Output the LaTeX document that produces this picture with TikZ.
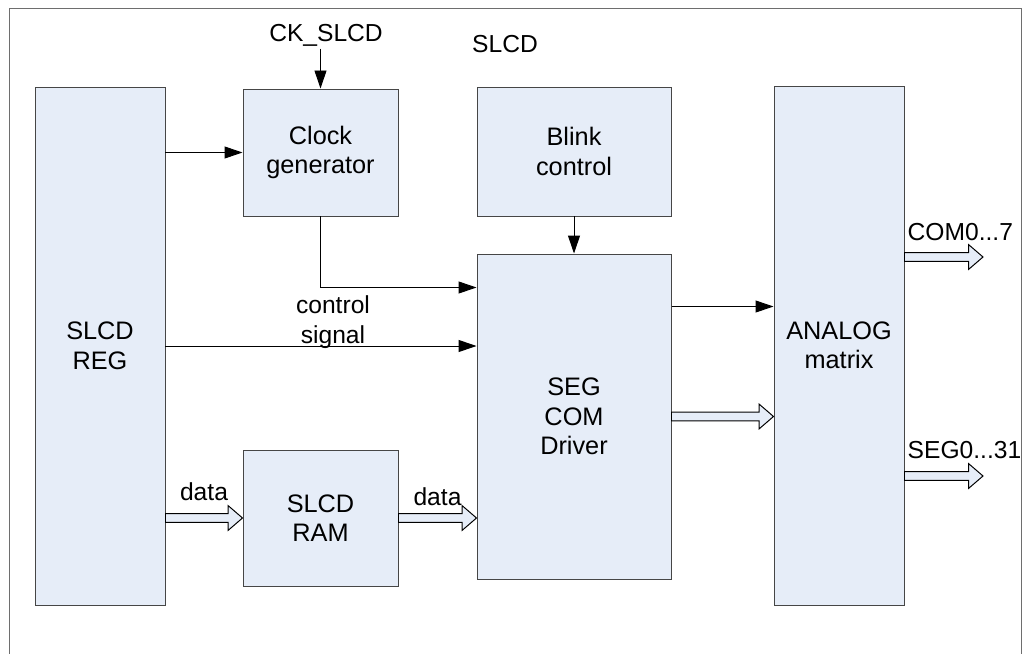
\documentclass[tikz,border=0pt]{standalone}
\usepackage{fontspec}
\setmainfont{Liberation Sans}
\usepackage{xcolor}
\usepackage{tikz}
\usetikzlibrary{positioning}
\usetikzlibrary{arrows.meta}
\usetikzlibrary{calc}

\definecolor{blockfill}{RGB}{230,237,248}
\definecolor{blockline}{RGB}{70,70,70}
\definecolor{framegray}{RGB}{110,110,110}

\tikzset{
  block/.style={draw=blockline, fill=blockfill, line width=0.7pt, align=center, inner sep=0pt, font=\fontsize{18}{21}\selectfont},
  lbl/.style={inner sep=1pt, font=\fontsize{17.5}{21}\selectfont},
  sig/.style={line width=0.7pt, -{Triangle[length=0.45cm,width=0.3cm]}},
  bus/.style={draw=black, fill=blockfill, line width=0.7pt, line join=miter},
}

% hollow bus arrow from #1 to #2 (horizontal)
\newcommand{\busarrow}[2]{%
  \filldraw[bus] ($(#1)+(0,0.11)$) -- ($(#2)+(-0.36,0.11)$) -- ($(#2)+(-0.36,0.31)$) -- (#2)
    -- ($(#2)+(-0.36,-0.31)$) -- ($(#2)+(-0.36,-0.11)$) -- ($(#1)+(0,-0.11)$) -- cycle;}

\begin{document}
\begin{tikzpicture}
        \clip (0,0) rectangle (25.6,16.325);
        \draw[framegray, line width=0.7pt] (0.225,-1) rectangle (25.525,16.125);

        % blocks
        \node[block, minimum width=3.25cm, minimum height=12.95cm] (reg) at (2.5,7.675) {SLCD\\REG};
        \node[block, minimum width=3.875cm, minimum height=3.175cm] (clk) at (8.0125,12.5125) {Clock\\generator};
        \node[block, minimum width=4.85cm, minimum height=3.225cm] (blink) at (14.35,12.5375) {Blink\\control};
        \node[block, minimum width=4.85cm, minimum height=8.125cm] (drv) at (14.35,5.9125) {SEG\\COM\\Driver};
        \node[block, minimum width=3.875cm, minimum height=3.4cm] (ram) at (8.0125,3.375) {SLCD\\RAM};
        \node[block, minimum width=3.25cm, minimum height=12.975cm] (ana) at (20.975,7.6875) {ANALOG\\matrix};

        % labels
        \node[lbl, anchor=base] (ck) at (8.15,15.275) {CK\_SLCD};
        \node[lbl, anchor=base] (slcd) at (12.625,15.0) {SLCD};
        \node[lbl, align=center] (ctrl) at (8.325,8.275) {control\\signal};
        \node[lbl, anchor=base west] (com) at (22.65,10.325) {COM0...7};
        \node[lbl, anchor=base west] (seg) at (22.65,4.875) {SEG0...31};

        % helper points
        \coordinate (ctlin) at ([yshift=-0.85cm]drv.north west);
        \coordinate (drvout) at ([yshift=-1.325cm]drv.north east);
        \coordinate (comend) at (24.575,9.9);
        \coordinate (segend) at (24.575,4.425);
        \coordinate (regdata) at (reg.east |- ram.west);
        \coordinate (drvdata) at (ram.east -| drv.west);
        \coordinate (anabus) at (drv.east -| ana.west);
        \coordinate (comstart) at (ana.east |- comend);
        \coordinate (segstart) at (ana.east |- segend);

        % signals
        \draw[sig] (ck.south -| clk.north) -- (clk.north);
        \draw[sig] (reg.east |- clk.west) -- (clk.west);
        \draw[sig] (clk.south) |- (ctlin);
        \draw[sig] (reg.east) -- (reg.east -| drv.west);
        \draw[sig] (blink.south) -- (drv.north);
        \draw[sig] (drvout) -- (drvout -| ana.west);

        % buses
        \busarrow{regdata}{ram.west}
        \busarrow{ram.east}{drvdata}
        \busarrow{drv.east}{anabus}
        \busarrow{comstart}{comend}
        \busarrow{segstart}{segend}
        \node[lbl, above=0.39cm] (data1) at ($(regdata)!0.5!(ram.west)$) {data};
        \node[lbl, above=0.27cm] (data2) at ($(ram.east)!0.5!(drvdata)$) {data};
    \end{tikzpicture}
\end{document}
